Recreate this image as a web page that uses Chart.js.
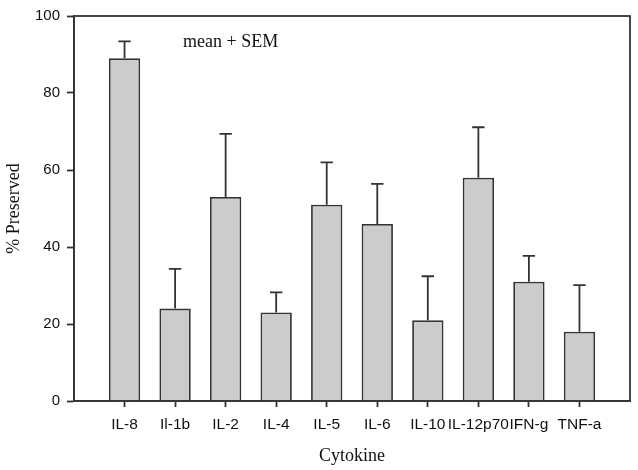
<!DOCTYPE html>
<html>
<head>
<meta charset="utf-8">
<script src="https://cdn.jsdelivr.net/npm/chart.js@4/dist/chart.umd.min.js"></script>
<style>
  html, body { margin: 0; padding: 0; background: #fff; }
  #wrap { width: 638px; height: 470px; }
</style>
</head>
<body>
<div id="wrap"><canvas id="chart" width="638" height="470"></canvas></div>
<script>
// Data
const categories = ['IL-8', 'Il-1b', 'IL-2', 'IL-4', 'IL-5', 'IL-6', 'IL-10', 'IL-12p70', 'IFN-g', 'TNF-a'];
const means = [89, 24, 53, 23, 51, 46, 21, 58, 31, 18];
const sems = [4.4, 10.3, 16.4, 5.2, 11, 10.4, 11.4, 13.1, 6.7, 12.1];
const yTicks = [0, 20, 40, 60, 80, 100];

// one empty slot on each side of the bars
const labels = [''].concat(categories, ['']);
const barData = [null].concat(means, [null]);
const errData = [null].concat(sems, [null]);

const lineColor = '#333333';

// error bars (mean + SEM only) and plot frame
const extrasPlugin = {
    id: 'extras',
    afterDatasetsDraw(chart) {
        const ctx = chart.ctx;
        const x = chart.scales.x;
        const y = chart.scales.y;
        const area = chart.chartArea;

        ctx.save();
        ctx.strokeStyle = lineColor;
        ctx.lineWidth = 1.8;
        barData.forEach((m, i) => {
            if (m === null) return;
            const px = x.getPixelForValue(i);
            const yTop = y.getPixelForValue(m);
            const yErr = y.getPixelForValue(m + errData[i]);
            ctx.beginPath();
            ctx.moveTo(px, yTop);
            ctx.lineTo(px, yErr);
            ctx.moveTo(px - 6.2, yErr);
            ctx.lineTo(px + 6.2, yErr);
            ctx.stroke();
        });

        // frame around the plot area
        ctx.lineWidth = 1.8;
        ctx.strokeRect(area.left, area.top, area.right - area.left, area.bottom - area.top);

        // annotation
        ctx.fillStyle = '#111';
        ctx.font = '18px "Liberation Serif", "Times New Roman", serif';
        ctx.textAlign = 'center';
        ctx.textBaseline = 'middle';
        ctx.fillText('mean + SEM', x.getPixelForValue(3) + 5, y.getPixelForValue(93.2));
        ctx.restore();
    }
};

new Chart(document.getElementById('chart'), {
    type: 'bar',
    data: {
        labels: labels,
        datasets: [{
            data: barData,
            backgroundColor: '#cccccc',
            borderColor: lineColor,
            borderWidth: 1.8,
            borderSkipped: 'bottom',
            barPercentage: 0.62,
            categoryPercentage: 1.0
        }]
    },
    options: {
        responsive: false,
        animation: false,
        layout: { padding: { top: 10, right: 4, left: 0, bottom: 0 } },
        plugins: {
            legend: { display: false },
            tooltip: { enabled: false }
        },
        scales: {
            x: {
                type: 'category',
                offset: false,
                grid: {
                    offset: false,
                    drawOnChartArea: false,
                    tickLength: 6,
                    tickWidth: 1.8,
                    tickColor: (c) => (c.tick && c.tick.label === '') ? 'rgba(0,0,0,0)' : lineColor
                },
                border: { color: lineColor, width: 1.8 },
                ticks: {
                    autoSkip: false,
                    maxRotation: 0,
                    padding: 8,
                    color: '#111',
                    font: { family: '"Liberation Sans", Arial, sans-serif', size: 15.5 }
                },
                title: {
                    display: true,
                    text: 'Cytokine',
                    color: '#111',
                    font: { family: '"Liberation Serif", "Times New Roman", serif', size: 18 },
                    padding: { top: 0, bottom: 3 }
                },
                afterFit(scale) { scale.height = 69; }
            },
            y: {
                min: 0,
                max: 100,
                afterBuildTicks(scale) { scale.ticks = yTicks.map(v => ({ value: v })); },
                grid: {
                    drawOnChartArea: false,
                    tickLength: 7,
                    tickWidth: 1.8,
                    tickColor: lineColor
                },
                border: { color: lineColor, width: 1.8 },
                ticks: {
                    padding: 7,
                    color: '#111',
                    font: { family: '"Liberation Sans", Arial, sans-serif', size: 15 }
                },
                title: {
                    display: true,
                    text: '% Preserved',
                    color: '#111',
                    font: { family: '"Liberation Serif", "Times New Roman", serif', size: 18 },
                    padding: { top: 3, bottom: 0 }
                },
                afterFit(scale) { scale.width = 74; }
            }
        }
    },
    plugins: [extrasPlugin]
});
</script>
</body>
</html>
